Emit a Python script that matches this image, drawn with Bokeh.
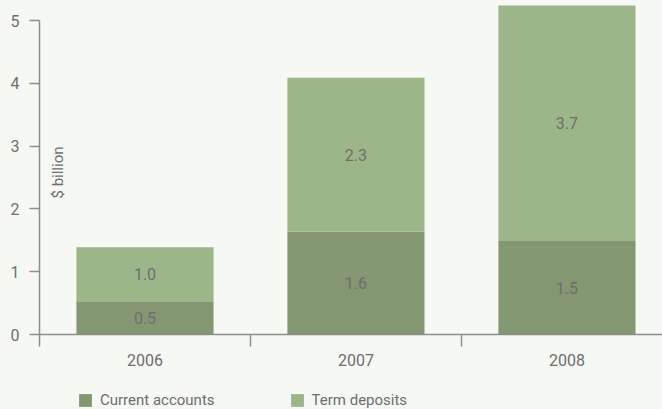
from math import pi
from bokeh.plotting import figure
from bokeh.layouts import column
from bokeh.models import (ColumnDataSource, FixedTicker, Range1d, Label, Legend, LegendItem)
from bokeh.core.properties import value
from bokeh.embed import file_html
from bokeh.resources import INLINE

# ---- data ----
years = ["2006", "2007", "2008"]
current_accounts = [0.53, 1.64, 1.49]
term_deposits = [0.86, 2.45, 3.75]
current_labels = ["0.5", "1.6", "1.5"]
term_labels = ["1.0", "2.3", "3.7"]
series_names = ["Current accounts", "Term deposits"]
y_ticks = [0, 1, 2, 3, 4, 5]

DARK = "#839772"
LIGHT = "#9db689"
TEXT = "#6d6d72"
AXIS = "#8e8e8e"
BG = "#f6f8f3"

idx = list(range(len(years)))
xc = [i + 0.5 for i in idx]
top1 = current_accounts
top2 = [a + b for a, b in zip(current_accounts, term_deposits)]
mid1 = [a / 2 for a in current_accounts]
mid2 = [a + b / 2 for a, b in zip(current_accounts, term_deposits)]

src = ColumnDataSource(dict(x=xc, top1=top1, top2=top2, bottom=[0] * len(xc),
                            mid1=mid1, mid2=mid2, l1=current_labels, l2=term_labels))

p = figure(width=662, height=380, output_backend="svg", toolbar_location=None,
           x_range=Range1d(0, 2.953), y_range=Range1d(0, 5.32),
           min_border_left=39, min_border_right=0, min_border_top=0, min_border_bottom=46,
           background_fill_color=BG, border_fill_color=BG, outline_line_color=None)
p.xgrid.visible = False
p.ygrid.visible = False

p.vbar(x="x", width=0.65, bottom="bottom", top="top1", source=src,
       fill_color=DARK, line_color=None)
p.vbar(x="x", width=0.65, bottom="top1", top="top2", source=src,
       fill_color=LIGHT, line_color=None)

p.text(x="x", y="mid1", text="l1", source=src, text_align="center", text_baseline="middle",
       text_font=value("Roboto"), text_font_size="16px", text_color=TEXT)
p.text(x="x", y="mid2", text="l2", source=src, text_align="center", text_baseline="middle",
       text_font=value("Roboto"), text_font_size="16px", text_color=TEXT)

# y axis
ya = p.yaxis[0]
ya.ticker = FixedTicker(ticks=y_ticks)
ya.bounds = (0, 5)
ya.axis_line_color = AXIS
ya.axis_line_width = 1.5
ya.major_tick_line_color = AXIS
ya.major_tick_line_width = 1.5
ya.major_tick_out = 10
ya.major_tick_in = 0
ya.minor_tick_line_color = None
ya.major_label_standoff = 10
ya.major_label_text_font = "Roboto"
ya.major_label_text_font_size = "16px"
ya.major_label_text_color = TEXT

# x axis
xa = p.xaxis[0]
xa.ticker = FixedTicker(ticks=xc, minor_ticks=[0, 1, 2, 3])
xa.major_label_overrides = {v: y for v, y in zip(xc, years)}
xa.axis_line_color = AXIS
xa.axis_line_width = 1.5
xa.major_tick_line_color = None
xa.major_tick_out = 0
xa.major_tick_in = 0
xa.minor_tick_line_color = AXIS
xa.minor_tick_line_width = 1.5
xa.minor_tick_out = 12
xa.minor_tick_in = 0
xa.major_label_standoff = 7
xa.major_label_text_font = "Roboto"
xa.major_label_text_font_size = "16px"
xa.major_label_text_color = TEXT

p.add_layout(Label(x=0.09, y=2.58, text="$ billion", angle=pi / 2,
                   text_align="center", text_baseline="middle",
                   text_font="Roboto", text_font_size="15px", text_color=TEXT))

# legend strip below the chart (swatch renderers sit outside the visible range)
lg = figure(width=662, height=29, output_backend="svg", toolbar_location=None,
            x_range=Range1d(0, 1), y_range=Range1d(0, 1),
            x_axis_type=None, y_axis_type=None,
            min_border_left=39, min_border_right=0, min_border_top=0, min_border_bottom=0,
            background_fill_color=BG, border_fill_color=BG, outline_line_color=None)
lg.xgrid.visible = False
lg.ygrid.visible = False
q1 = lg.vbar(x=[-5], top=[-5], bottom=[-6], width=0.1, fill_color=DARK, line_color=None)
q2 = lg.vbar(x=[-5], top=[-5], bottom=[-6], width=0.1, fill_color=LIGHT, line_color=None)
legend = Legend(items=[LegendItem(label=series_names[0], renderers=[q1]),
                       LegendItem(label=series_names[1], renderers=[q2])],
                orientation="horizontal", location=(38, 0),
                glyph_width=16, glyph_height=16, label_height=16, label_standoff=7, spacing=74,
                label_text_font="Roboto", label_text_font_size="15px",
                label_text_color=TEXT, background_fill_alpha=0, border_line_alpha=0,
                padding=0, margin=0)
lg.add_layout(legend, "center")

layout = column(p, lg, spacing=0, background=BG)
open("out.html", "w").write(file_html(layout, INLINE))
